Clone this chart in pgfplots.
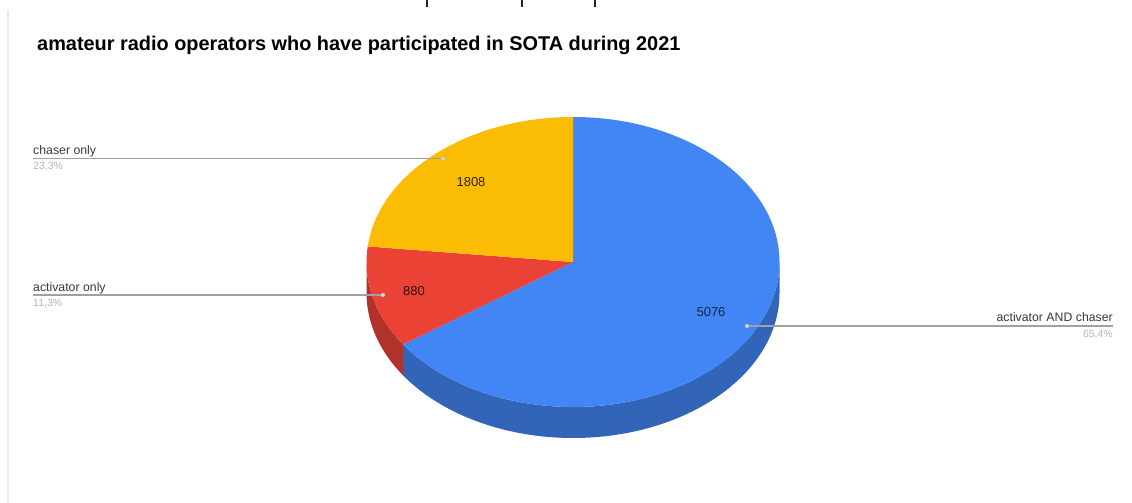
\documentclass[border=0pt]{standalone}
\usepackage{pgfplots}
\usepackage{pgfplotstable}
\pgfplotsset{compat=1.18}
\usepackage{fontspec}
\setmainfont{Liberation Sans}

\definecolor{gblue}{HTML}{4285F4}
\definecolor{gblueside}{HTML}{3264B8}
\definecolor{gred}{HTML}{EA4335}
\definecolor{gredside}{HTML}{B0322A}
\definecolor{gyellow}{HTML}{FBBC04}
\definecolor{leader}{HTML}{A0A0A0}
\definecolor{pct}{HTML}{B4B4B4}

% slices in drawing order, clockwise from 12 o'clock
\pgfplotstableread{
slice value
both 5076
activator 880
chaser 1808
}\piedata

\begin{document}
\begin{tikzpicture}
\pgfplotstablegetelem{0}{value}\of\piedata \let\vboth\pgfplotsretval
\pgfplotstablegetelem{1}{value}\of\piedata \let\vact\pgfplotsretval
\pgfplotstablegetelem{2}{value}\of\piedata \let\vcha\pgfplotsretval
\pgfmathsetmacro\vtot{\vboth+\vact+\vcha}
\pgfmathsetmacro\aone{90-360*(\vboth/\vtot)}
\pgfmathsetmacro\atwo{\aone-360*(\vact/\vtot)}
\def\dep{31pt}

\path[use as bounding box] (0,0) rectangle (1132pt,503pt);
\begin{axis}[
    at={(0,0)}, anchor=south west,
    scale only axis,
    width=1132pt, height=503pt,
    xmin=0, xmax=1132, ymin=0, ymax=503,
    hide axis, clip=false,
  ]
  \fill[black!8] (axis cs:6.5,0) rectangle (axis cs:8.5,493);

  \node[inner sep=0pt, anchor=base west, font=\fontsize{19.9}{23}\selectfont\bfseries]
    at (axis cs:37,452) {amateur radio operators who have participated in SOTA during 2021};

  % 3d side
  \fill[gblueside] (axis cs:573,241) ++(\aone:206.5pt and 145pt)
    arc[start angle=\aone, end angle=0, x radius=206.5pt, y radius=145pt]
    -- ++(0,-\dep)
    arc[start angle=0, end angle=\aone, x radius=206.5pt, y radius=145pt] -- cycle;
  \fill[gredside] (axis cs:573,241) ++(-180:206.5pt and 145pt)
    arc[start angle=-180, end angle=\aone, x radius=206.5pt, y radius=145pt]
    -- ++(0,-\dep)
    arc[start angle=\aone, end angle=-180, x radius=206.5pt, y radius=145pt] -- cycle;

  % top faces
  \fill[gblue] (axis cs:573,241) -- ++(90:206.5pt and 145pt)
    arc[start angle=90, end angle=\aone, x radius=206.5pt, y radius=145pt] -- cycle;
  \fill[gred] (axis cs:573,241) -- ++(\aone:206.5pt and 145pt)
    arc[start angle=\aone, end angle=\atwo, x radius=206.5pt, y radius=145pt] -- cycle;
  \fill[gyellow] (axis cs:573,241) -- ++(\atwo:206.5pt and 145pt)
    arc[start angle=\atwo, end angle=-270, x radius=206.5pt, y radius=145pt] -- cycle;

  % values
  \node[inner sep=0pt, font=\fontsize{13}{15}\selectfont, text=gyellow!20!black] at (axis cs:471,321) {1808};
  \node[inner sep=0pt, font=\fontsize{13}{15}\selectfont, text=gred!20!black] at (axis cs:414,212) {880};
  \node[inner sep=0pt, font=\fontsize{13}{15}\selectfont, text=gblue!30!black] at (axis cs:711,191) {5076};

  % leader lines
  \draw[leader, line width=1.2pt] (axis cs:33,344.5) -- (axis cs:443,344.5);
  \draw[leader, line width=1.2pt] (axis cs:33,208) -- (axis cs:383,208);
  \draw[leader, line width=1.2pt] (axis cs:747,177) -- (axis cs:1113,177);
  \fill[black!18] (axis cs:443,344.5) circle[radius=2pt];
  \fill[black!18] (axis cs:383,208) circle[radius=2pt];
  \fill[black!18] (axis cs:747,177) circle[radius=2pt];

  \node[inner sep=0pt, anchor=base west, font=\fontsize{12.3}{14}\selectfont, text=black!78] at (axis cs:33,348) {chaser only};
  \node[inner sep=0pt, anchor=base west, font=\fontsize{10.5}{12}\selectfont, text=pct] at (axis cs:33,333.5) {23,3\%};
  \node[inner sep=0pt, anchor=base west, font=\fontsize{12.3}{14}\selectfont, text=black!78] at (axis cs:33,211) {activator only};
  \node[inner sep=0pt, anchor=base west, font=\fontsize{10.5}{12}\selectfont, text=pct] at (axis cs:33,196) {11,3\%};
  \node[inner sep=0pt, anchor=base east, font=\fontsize{12.3}{14}\selectfont, text=black!78] at (axis cs:1113,181) {activator AND chaser};
  \node[inner sep=0pt, anchor=base east, font=\fontsize{10.5}{12}\selectfont, text=pct] at (axis cs:1113,165) {65,4\%};
\end{axis}
% clipped remnants of a line of text above the chart
\fill[black!85] (426.2pt,496pt) rectangle (427.8pt,503pt);
\fill[black!85] (521.2pt,496pt) rectangle (522.8pt,503pt);
\fill[black!85] (594.2pt,496pt) rectangle (595.8pt,503pt);
\end{tikzpicture}
\end{document}
